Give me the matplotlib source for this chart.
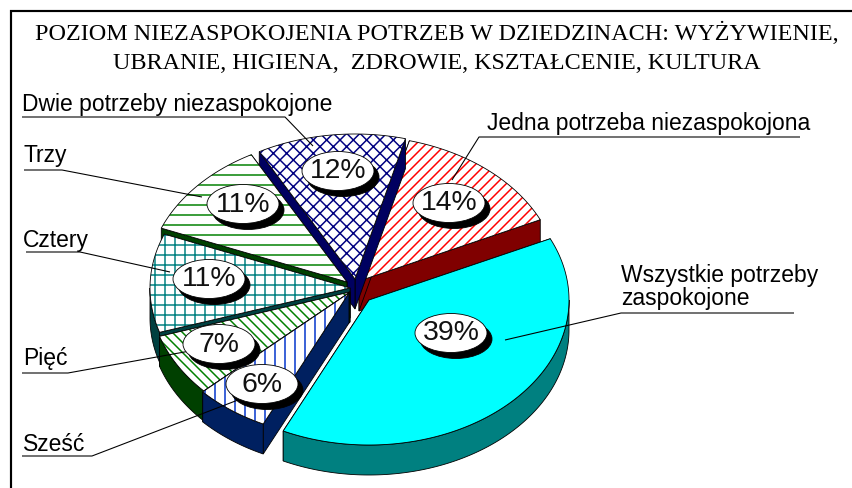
#!/usr/bin/env python3
"""Exploded pseudo-3D pie: poziom niezaspokojenia potrzeb."""
import numpy as np
import matplotlib
matplotlib.use('Agg')
import matplotlib.pyplot as plt
from matplotlib.patches import Polygon, Ellipse

plt.rcParams['font.family'] = ['Liberation Sans', 'DejaVu Sans']
plt.rcParams['hatch.linewidth'] = 0.9

# ── Data ──
slice_names = ['Jedna', 'Dwie', 'Trzy', 'Cztery', 'Piec', 'Szesc', 'Wszystkie']
shares = [14, 12, 11, 11, 7, 6, 39]
pct_labels = ['14%', '12%', '11%', '11%', '7%', '6%', '39%']

title_lines = ['POZIOM NIEZASPOKOJENIA POTRZEB W DZIEDZINACH: WYŻYWIENIE,',
               'UBRANIE, HIGIENA,  ZDROWIE, KSZTAŁCENIE, KULTURA']

# ── Styling per slice (same order as shares) ──
top_colors = ['red', 'navy', 'green', 'teal', 'green', '#0033cc', 'black']
top_fill = ['white', 'white', 'white', 'white', 'white', 'white', '#00ffff']
hatches = ['////', 'xxx', '--', '++', '\\\\\\\\', '||', None]
hatch_lw = 0
wall_colors = ['#800000', '#000060', '#004000', '#004040', '#004000', '#002060', '#008080']
centres = [(359, 281), (355, 279), (347, 282), (350, 288), (350, 292), (349, 293), (369, 300)]
label_pos = [(449, 203), (338, 171), (243, 204), (209, 279), (219, 344), (262, 384), (451, 333)]

RX, RY, DEPTH = 200, 145, 30
START = 25.0

W, H = 852, 488
fig = plt.figure(figsize=(W / 120, H / 120), dpi=120)
ax = fig.add_axes([0, 0, 1, 1])
ax.set_xlim(0, W); ax.set_ylim(H, 0)
ax.axis('off')

# slice angles come from the shares, running counter-clockwise from START
edges = START + np.cumsum([0] + shares) / sum(shares) * 360.0


def arc(cx, cy, a0, a1):
    t = np.radians(np.linspace(a0, a1, max(int(abs(a1 - a0)) * 2, 2)))
    return np.column_stack([cx + RX * np.cos(t), cy - RY * np.sin(t)])


# ── Slices, painted back to front ──
for i in [1, 0, 2, 3, 4, 5, 6]:
    a0, a1 = edges[i], edges[i + 1]
    cx, cy = centres[i]
    rim = arc(cx, cy, a0, a1)
    drop = np.array([0, DEPTH])
    apex = np.array([cx, cy])

    # radial walls
    for p in (rim[0], rim[-1]):
        ax.add_patch(Polygon([apex, p, p + drop, apex + drop], fc=wall_colors[i],
                             ec='black', lw=0.5, zorder=2 + i * 0.1))
    # outer wall, only the front half of the rim
    lo, hi = max(a0, 180), min(a1, 360)
    if hi > lo:
        front = arc(cx, cy, lo, hi)
        ax.add_patch(Polygon(np.vstack([front, (front + drop)[::-1]]), fc=wall_colors[i],
                             ec='black', lw=0.5, zorder=2 + i * 0.1))

    top = np.vstack([apex, rim])
    ax.add_patch(Polygon(top, fc=top_fill[i], ec=top_colors[i], hatch=hatches[i],
                         lw=hatch_lw, zorder=2 + i * 0.1 + 0.01))
    ax.add_patch(Polygon(top, fc='none', ec='black', lw=0.5, zorder=2 + i * 0.1 + 0.02))

# ── Leader lines ──
leaders = [
    [(22, 117), (285, 117), (313, 146)],
    [(800, 137), (479, 137), (452, 180)],
    [(794, 313), (621, 313), (505, 340)],
    [(24, 170), (62, 170), (202, 197)],
    [(26, 252), (80, 252), (170, 272)],
    [(22, 373), (68, 373), (190, 351)],
    [(22, 456), (92, 456), (238, 400)],
]
for pts in leaders:
    xs, ys = zip(*pts)
    ax.plot(xs, ys, color='black', lw=0.65, zorder=5, solid_capstyle='butt')

# ── Percent bubbles ──
for (x, y), txt in zip(label_pos, pct_labels):
    ax.add_patch(Ellipse((x + 5, y + 6), 72, 39, fc='black', ec='black', lw=0.5, zorder=6))
    ax.add_patch(Ellipse((x, y), 72, 39, fc='white', ec='black', lw=0.5, zorder=7))
    ax.text(x, y + 0.5, txt, fontsize=17, ha='center', va='center', color='#111111', zorder=8)

# ── Category labels ──
lab_size = 13.75
ax.text(22, 111, 'Dwie potrzeby niezaspokojone', fontsize=lab_size, va='baseline')
ax.text(487, 130, 'Jedna potrzeba niezaspokojona', fontsize=lab_size, va='baseline')
ax.text(621, 282, 'Wszystkie potrzeby', fontsize=lab_size, va='baseline')
ax.text(621, 305, 'zaspokojone', fontsize=lab_size, va='baseline')
ax.text(23, 162, 'Trzy', fontsize=lab_size, va='baseline')
ax.text(23, 247, 'Cztery', fontsize=lab_size, va='baseline')
ax.text(23, 365, 'Pięć', fontsize=lab_size, va='baseline')
ax.text(23, 451, 'Sześć', fontsize=lab_size, va='baseline')

# ── Title ──
ax.text(437, 40, title_lines[0], fontsize=14.45, family='Liberation Serif', ha='center', va='baseline')
ax.text(437, 69, title_lines[1], fontsize=14.45, family='Liberation Serif', ha='center', va='baseline')

# ── Frame (left and top only reach the picture edges) ──
ax.plot([11, 11, W], [H, 11, 11], color='black', lw=1.3, zorder=9, solid_joinstyle='miter')

fig.savefig('out.png', dpi=120)
